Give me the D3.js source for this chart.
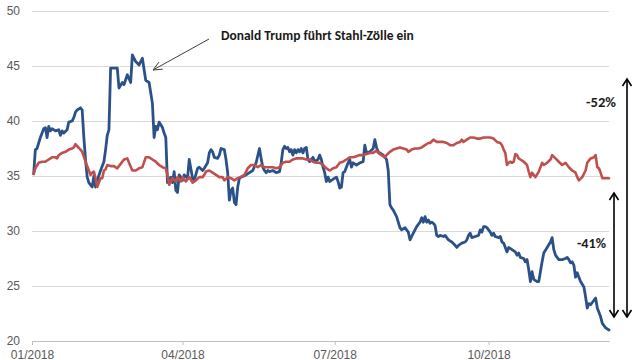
<!DOCTYPE html>
<html><head><meta charset="utf-8">
<script src="https://cdn.jsdelivr.net/npm/d3@7"></script>
<style>body{margin:0;background:#fff}svg{display:block}</style>
</head><body><svg id="c" width="640" height="360"></svg>
<script>
const yTicks = [20, 25, 30, 35, 40, 45, 50];
const xTickDates = ["2018-01-01", "2018-04-01", "2018-07-01", "2018-10-01"];
const xDomain = ["2018-01-01", "2018-12-12"];
const annotationText = "Donald Trump führt Stahl-Zölle ein";
const changeLabels = ["-52%", "-41%"];

// blue series (steel stock)
const stockSeries = [
["01-02",35.2],["01-03",37.4],["01-04",37.5],["01-06",38.5],["01-08",39.3],["01-09",39.4],["01-10",38.5],["01-11",39.5],["01-12",39.1],["01-13",39.3],
["01-15",39.1],["01-17",39.2],["01-18",38.7],["01-19",39.1],["01-20",38.9],["01-22",39.2],["01-23",39.9],["01-25",40.0],["01-26",40.3],["01-27",40.8],
["01-28",41.0],["01-30",41.2],["01-31",41.0],["02-01",38.5],["02-02",36.5],["02-03",34.9],["02-04",34.4],["02-05",34.2],["02-06",34.0],["02-07",35.0],
["02-08",34.0],["02-09",34.6],["02-11",35.5],["02-13",36.3],["02-14",37.4],["02-15",38.7],["02-16",39.2],["02-17",44.8],["02-19",44.8],["02-21",44.8],
["02-22",43.0],["02-24",43.5],["02-25",43.3],["02-27",44.2],["03-01",43.5],["03-02",46.0],["03-04",45.4],["03-06",45.1],["03-08",45.7],["03-10",43.7],
["03-12",43.5],["03-14",41.6],["03-15",38.5],["03-16",39.5],["03-17",39.2],["03-18",39.9],["03-20",39.4],["03-21",38.9],["03-22",38.5],["03-23",34.4],
["03-25",34.9],["03-26",34.4],["03-27",35.4],["03-28",33.7],["03-29",33.5],["03-30",35.1],["03-31",34.9],["04-01",34.6],["04-02",35.1],["04-04",34.8],
["04-05",36.5],["04-07",34.8],["04-08",34.6],["04-10",35.7],["04-11",35.8],["04-13",35.5],["04-14",35.7],["04-16",36.2],["04-17",37.1],["04-18",37.4],
["04-19",37.2],["04-20",36.7],["04-22",36.6],["04-23",36.9],["04-24",37.5],["04-26",37.4],["04-27",36.5],["04-28",35.3],["04-29",32.8],["04-30",33.7],
["05-01",33.9],["05-02",32.6],["05-03",32.4],["05-04",34.0],["05-05",34.8],["05-06",34.9],["05-09",35.1],["05-11",35.3],["05-13",35.5],["05-15",36.2],
["05-17",37.5],["05-18",36.6],["05-19",35.8],["05-20",35.5],["05-21",35.3],["05-22",35.5],["05-23",35.4],["05-25",35.5],["05-27",35.3],["05-29",35.4],
["05-30",36.2],["05-31",37.4],["06-01",37.7],["06-02",37.5],["06-03",37.6],["06-04",37.2],["06-05",37.4],["06-06",36.9],["06-07",37.4],["06-08",37.1],
["06-09",37.4],["06-10",37.2],["06-11",37.5],["06-12",37.1],["06-13",37.5],["06-14",37.6],["06-15",36.5],["06-16",36.3],["06-18",36.7],["06-19",36.3],
["06-21",36.5],["06-22",36.9],["06-23",36.5],["06-24",35.8],["06-25",35.3],["06-26",34.5],["06-27",34.9],["06-28",34.5],["06-29",34.6],["07-01",34.8],
["07-02",34.9],["07-03",34.5],["07-04",33.9],["07-05",34.0],["07-06",35.3],["07-07",35.4],["07-09",36.2],["07-10",36.5],["07-11",35.8],["07-12",36.2],
["07-14",36.0],["07-16",36.2],["07-18",36.3],["07-19",37.8],["07-20",37.1],["07-22",37.2],["07-24",37.5],["07-25",38.3],["07-26",37.6],["07-27",37.2],
["07-28",37.1],["07-30",36.9],["08-01",36.5],["08-02",35.5],["08-03",32.4],["08-04",32.1],["08-05",31.9],["08-07",31.3],["08-09",30.3],["08-10",30.1],
["08-12",30.3],["08-14",29.9],["08-15",29.2],["08-17",29.8],["08-19",30.4],["08-21",30.8],["08-22",31.2],["08-23",30.8],["08-24",31.3],["08-25",30.8],
["08-26",31.0],["08-27",30.7],["08-28",30.8],["08-29",30.7],["08-30",30.5],["08-31",29.6],["09-01",29.5],["09-02",29.6],["09-04",29.5],["09-05",29.6],
["09-06",29.4],["09-07",29.2],["09-09",29.0],["09-11",28.7],["09-12",28.5],["09-13",28.7],["09-15",28.9],["09-17",29.0],["09-18",29.2],["09-19",29.6],
["09-20",29.8],["09-21",29.4],["09-23",29.5],["09-25",29.6],["09-26",30.1],["09-27",29.9],["09-28",30.4],["09-29",30.4],["09-30",30.3],["10-02",29.9],
["10-03",29.6],["10-04",29.8],["10-05",29.5],["10-07",29.4],["10-08",29.5],["10-09",29.0],["10-10",28.9],["10-11",28.5],["10-12",28.1],["10-13",28.5],
["10-15",28.3],["10-17",28.1],["10-18",27.8],["10-19",28.0],["10-20",27.6],["10-22",27.5],["10-23",27.2],["10-24",27.4],["10-25",26.5],["10-26",25.4],
["10-27",26.3],["10-28",25.6],["10-30",25.4],["10-31",25.4],["11-02",27.2],["11-03",28.0],["11-05",28.5],["11-07",29.0],["11-08",29.4],["11-09",28.3],
["11-10",27.8],["11-12",27.4],["11-14",27.4],["11-16",27.5],["11-17",27.6],["11-18",27.4],["11-19",27.1],["11-20",27.2],["11-21",26.9],["11-22",25.8],
["11-23",26.2],["11-24",25.8],["11-25",25.4],["11-27",24.9],["11-28",24.0],["11-29",23.0],["11-30",23.4],["12-01",23.3],["12-02",23.5],["12-04",23.9],
["12-05",23.0],["12-07",22.2],["12-08",21.6],["12-10",21.2],["12-12",21.0]
];

// red series (benchmark)
const indexSeries = [
["01-02",35.2],["01-03",35.7],["01-05",36.2],["01-07",36.3],["01-09",36.3],["01-11",36.5],["01-12",36.6],["01-13",36.7],["01-15",36.7],["01-16",36.6],
["01-17",36.9],["01-19",37.1],["01-21",37.2],["01-23",37.4],["01-25",37.5],["01-26",37.6],["01-27",37.9],["01-28",37.7],["01-30",37.4],["01-31",37.2],
["02-02",36.3],["02-04",35.5],["02-05",35.1],["02-06",35.3],["02-07",35.4],["02-08",34.8],["02-09",34.0],["02-10",34.4],["02-11",34.8],["02-12",34.8],
["02-13",35.5],["02-14",35.6],["02-15",36.0],["02-17",35.9],["02-19",35.9],["02-21",35.7],["02-23",36.1],["02-25",36.5],["02-27",36.6],["02-28",36.2],
["03-02",35.5],["03-04",35.5],["03-06",35.7],["03-08",35.8],["03-10",36.7],["03-12",36.7],["03-14",36.5],["03-16",36.3],["03-18",36.0],["03-20",35.8],
["03-22",35.7],["03-23",35.1],["03-24",34.2],["03-25",34.5],["03-26",34.8],["03-28",34.5],["03-29",34.9],["03-31",34.5],["04-01",34.9],["04-03",34.5],
["04-05",34.9],["04-07",34.4],["04-09",34.6],["04-11",34.9],["04-13",34.9],["04-14",35.1],["04-15",35.4],["04-17",35.5],["04-19",35.3],["04-21",35.1],
["04-23",34.9],["04-25",34.9],["04-26",34.6],["04-28",34.9],["04-30",34.8],["05-02",34.6],["05-04",34.8],["05-06",34.9],["05-08",35.1],["05-10",35.7],
["05-12",36.0],["05-14",36.0],["05-16",35.8],["05-18",36.0],["05-20",35.8],["05-23",35.8],["05-25",35.8],["05-27",35.7],["05-29",35.8],["05-31",36.2],
["06-02",36.3],["06-04",36.3],["06-06",36.5],["06-08",36.6],["06-10",36.6],["06-12",36.6],["06-14",36.5],["06-16",36.5],["06-18",36.3],["06-20",36.2],
["06-22",36.2],["06-24",36.0],["06-26",35.7],["06-28",35.5],["06-30",35.7],["07-02",35.8],["07-04",36.2],["07-06",36.3],["07-08",36.5],["07-10",36.7],
["07-12",36.7],["07-14",36.8],["07-16",36.9],["07-18",36.9],["07-20",37.0],["07-22",37.1],["07-24",37.1],["07-26",37.3],["07-27",37.1],["07-29",36.9],
["07-31",36.7],["08-01",36.9],["08-03",37.2],["08-05",37.4],["08-07",37.5],["08-09",37.6],["08-11",37.5],["08-13",37.4],["08-14",37.2],["08-16",37.4],
["08-18",37.5],["08-20",37.5],["08-22",37.6],["08-24",37.8],["08-26",38.0],["08-27",38.0],["08-29",38.3],["08-31",38.1],["09-02",38.1],["09-04",38.1],
["09-06",38.0],["09-08",37.8],["09-10",37.8],["09-12",38.0],["09-14",38.1],["09-15",38.3],["09-16",38.1],["09-18",38.3],["09-20",38.5],["09-22",38.5],
["09-24",38.4],["09-26",38.4],["09-28",38.5],["09-30",38.5],["10-02",38.5],["10-04",38.4],["10-06",38.1],["10-08",38.0],["10-09",37.8],["10-10",37.4],
["10-11",37.1],["10-12",36.0],["10-13",36.2],["10-14",36.3],["10-15",36.2],["10-16",36.3],["10-17",37.0],["10-18",36.9],["10-19",36.6],["10-20",36.5],
["10-22",36.3],["10-24",36.0],["10-25",35.4],["10-26",34.9],["10-27",35.3],["10-29",34.9],["10-31",35.4],["11-02",36.2],["11-03",36.0],["11-05",36.2],
["11-07",36.5],["11-08",36.9],["11-10",36.6],["11-12",36.3],["11-14",36.0],["11-16",36.2],["11-18",35.8],["11-20",35.5],["11-22",35.3],["11-23",34.9],
["11-24",34.6],["11-26",34.9],["11-28",35.5],["11-29",36.2],["12-01",36.6],["12-03",36.7],["12-04",36.9],["12-05",35.8],["12-06",35.7],["12-07",35.3],
["12-08",34.8],["12-10",34.8],["12-12",34.8]
];

const parse = d3.timeParse("%Y-%m-%d");
const svg = d3.select("#c");
const x = d3.scaleTime().domain(xDomain.map(parse)).range([32, 609]);
const y = d3.scaleLinear().domain([20, 50]).range([341, 11]);
const FONT = "'Liberation Sans', Arial, sans-serif";

// y grid + labels
svg.append("g").attr("transform", "translate(32,0)")
  .call(d3.axisLeft(y).tickValues(yTicks).tickSize(-577).tickFormat(d3.format("d")))
  .call(g => {
    g.select(".domain").remove();
    g.selectAll(".tick line").attr("stroke", "#d9d9d9").attr("stroke-width", 1);
    g.selectAll(".tick text").attr("x", -12).attr("fill", "#595959")
      .style("font-family", FONT).style("font-size", "12px");
  });

// x axis
svg.append("g").attr("transform", "translate(0,341)")
  .call(d3.axisBottom(x).tickValues(xTickDates.map(parse)).tickSize(4).tickSizeOuter(0)
    .tickFormat(d3.timeFormat("%m/%Y")))
  .call(g => {
    g.select(".domain").attr("stroke", "#bfbfbf");
    g.selectAll(".tick line").attr("stroke", "#bfbfbf");
    g.selectAll(".tick text").attr("y", 17.5).attr("dy", 0).attr("fill", "#595959")
      .style("font-family", FONT).style("font-size", "12px");
  });

const line = d3.line()
  .x(d => x(parse("2018-" + d[0])))
  .y(d => y(d[1]));

svg.append("path").datum(stockSeries).attr("d", line)
  .attr("fill", "none").attr("stroke", "#2a5289").attr("stroke-width", 2.8)
  .attr("stroke-linejoin", "round").attr("stroke-linecap", "round");
svg.append("path").datum(indexSeries).attr("d", line)
  .attr("fill", "none").attr("stroke", "#c0504d").attr("stroke-width", 2.6)
  .attr("stroke-linejoin", "round").attr("stroke-linecap", "round");

// annotation text, fitted to its width in the reference
const BOLD = "Calibri, Carlito, Lato, 'Liberation Sans', sans-serif";
const ann = svg.append("text").attr("x", 221).attr("y", 40)
  .attr("font-family", BOLD).attr("font-weight", "bold").attr("font-size", 13)
  .attr("fill", "#1a1a1a").text(annotationText);
const w = ann.node().getComputedTextLength();
ann.attr("font-size", 13 * 193 / w);

function arrowHead(g, tx, ty, fx, fy, len, half, color, sw) {
  const a = Math.atan2(fy - ty, fx - tx);
  const p1 = [tx + len * Math.cos(a) - half * Math.sin(a), ty + len * Math.sin(a) + half * Math.cos(a)];
  const p2 = [tx + len * Math.cos(a) + half * Math.sin(a), ty + len * Math.sin(a) - half * Math.cos(a)];
  g.append("path").attr("d", `M${p1[0]},${p1[1]}L${tx},${ty}L${p2[0]},${p2[1]}`)
    .attr("fill", "none").attr("stroke", color).attr("stroke-width", sw)
    .attr("stroke-linejoin", "miter");
}

// annotation arrow
const ga = svg.append("g");
ga.append("line").attr("x1", 209).attr("y1", 39).attr("x2", 153).attr("y2", 70)
  .attr("stroke", "#404040").attr("stroke-width", 1);
arrowHead(ga, 153, 70, 209, 39, 9, 4, "#404040", 1);

// double arrows
function dblArrow(xp, y1, y2) {
  const g = svg.append("g");
  g.append("line").attr("x1", xp).attr("x2", xp).attr("y1", y1).attr("y2", y2)
    .attr("stroke", "#000").attr("stroke-width", 1.6);
  arrowHead(g, xp, y1, xp, y2, 7, 4.5, "#000", 1.6);
  arrowHead(g, xp, y2, xp, y1, 7, 4.5, "#000", 1.6);
}
dblArrow(627, 79, 317);
dblArrow(614, 193, 317);

const lab1 = svg.append("text").attr("x", 586).attr("y", 107)
  .attr("font-family", BOLD).attr("font-weight", "bold").attr("font-size", 13)
  .attr("fill", "#1a1a1a").text(changeLabels[0]);
lab1.attr("font-size", 13 * 30 / lab1.node().getComputedTextLength());
const lab2 = svg.append("text").attr("x", 577).attr("y", 248)
  .attr("font-family", BOLD).attr("font-weight", "bold").attr("font-size", 13)
  .attr("fill", "#1a1a1a").text(changeLabels[1]);
lab2.attr("font-size", 13 * 29 / lab2.node().getComputedTextLength());
</script></body></html>
